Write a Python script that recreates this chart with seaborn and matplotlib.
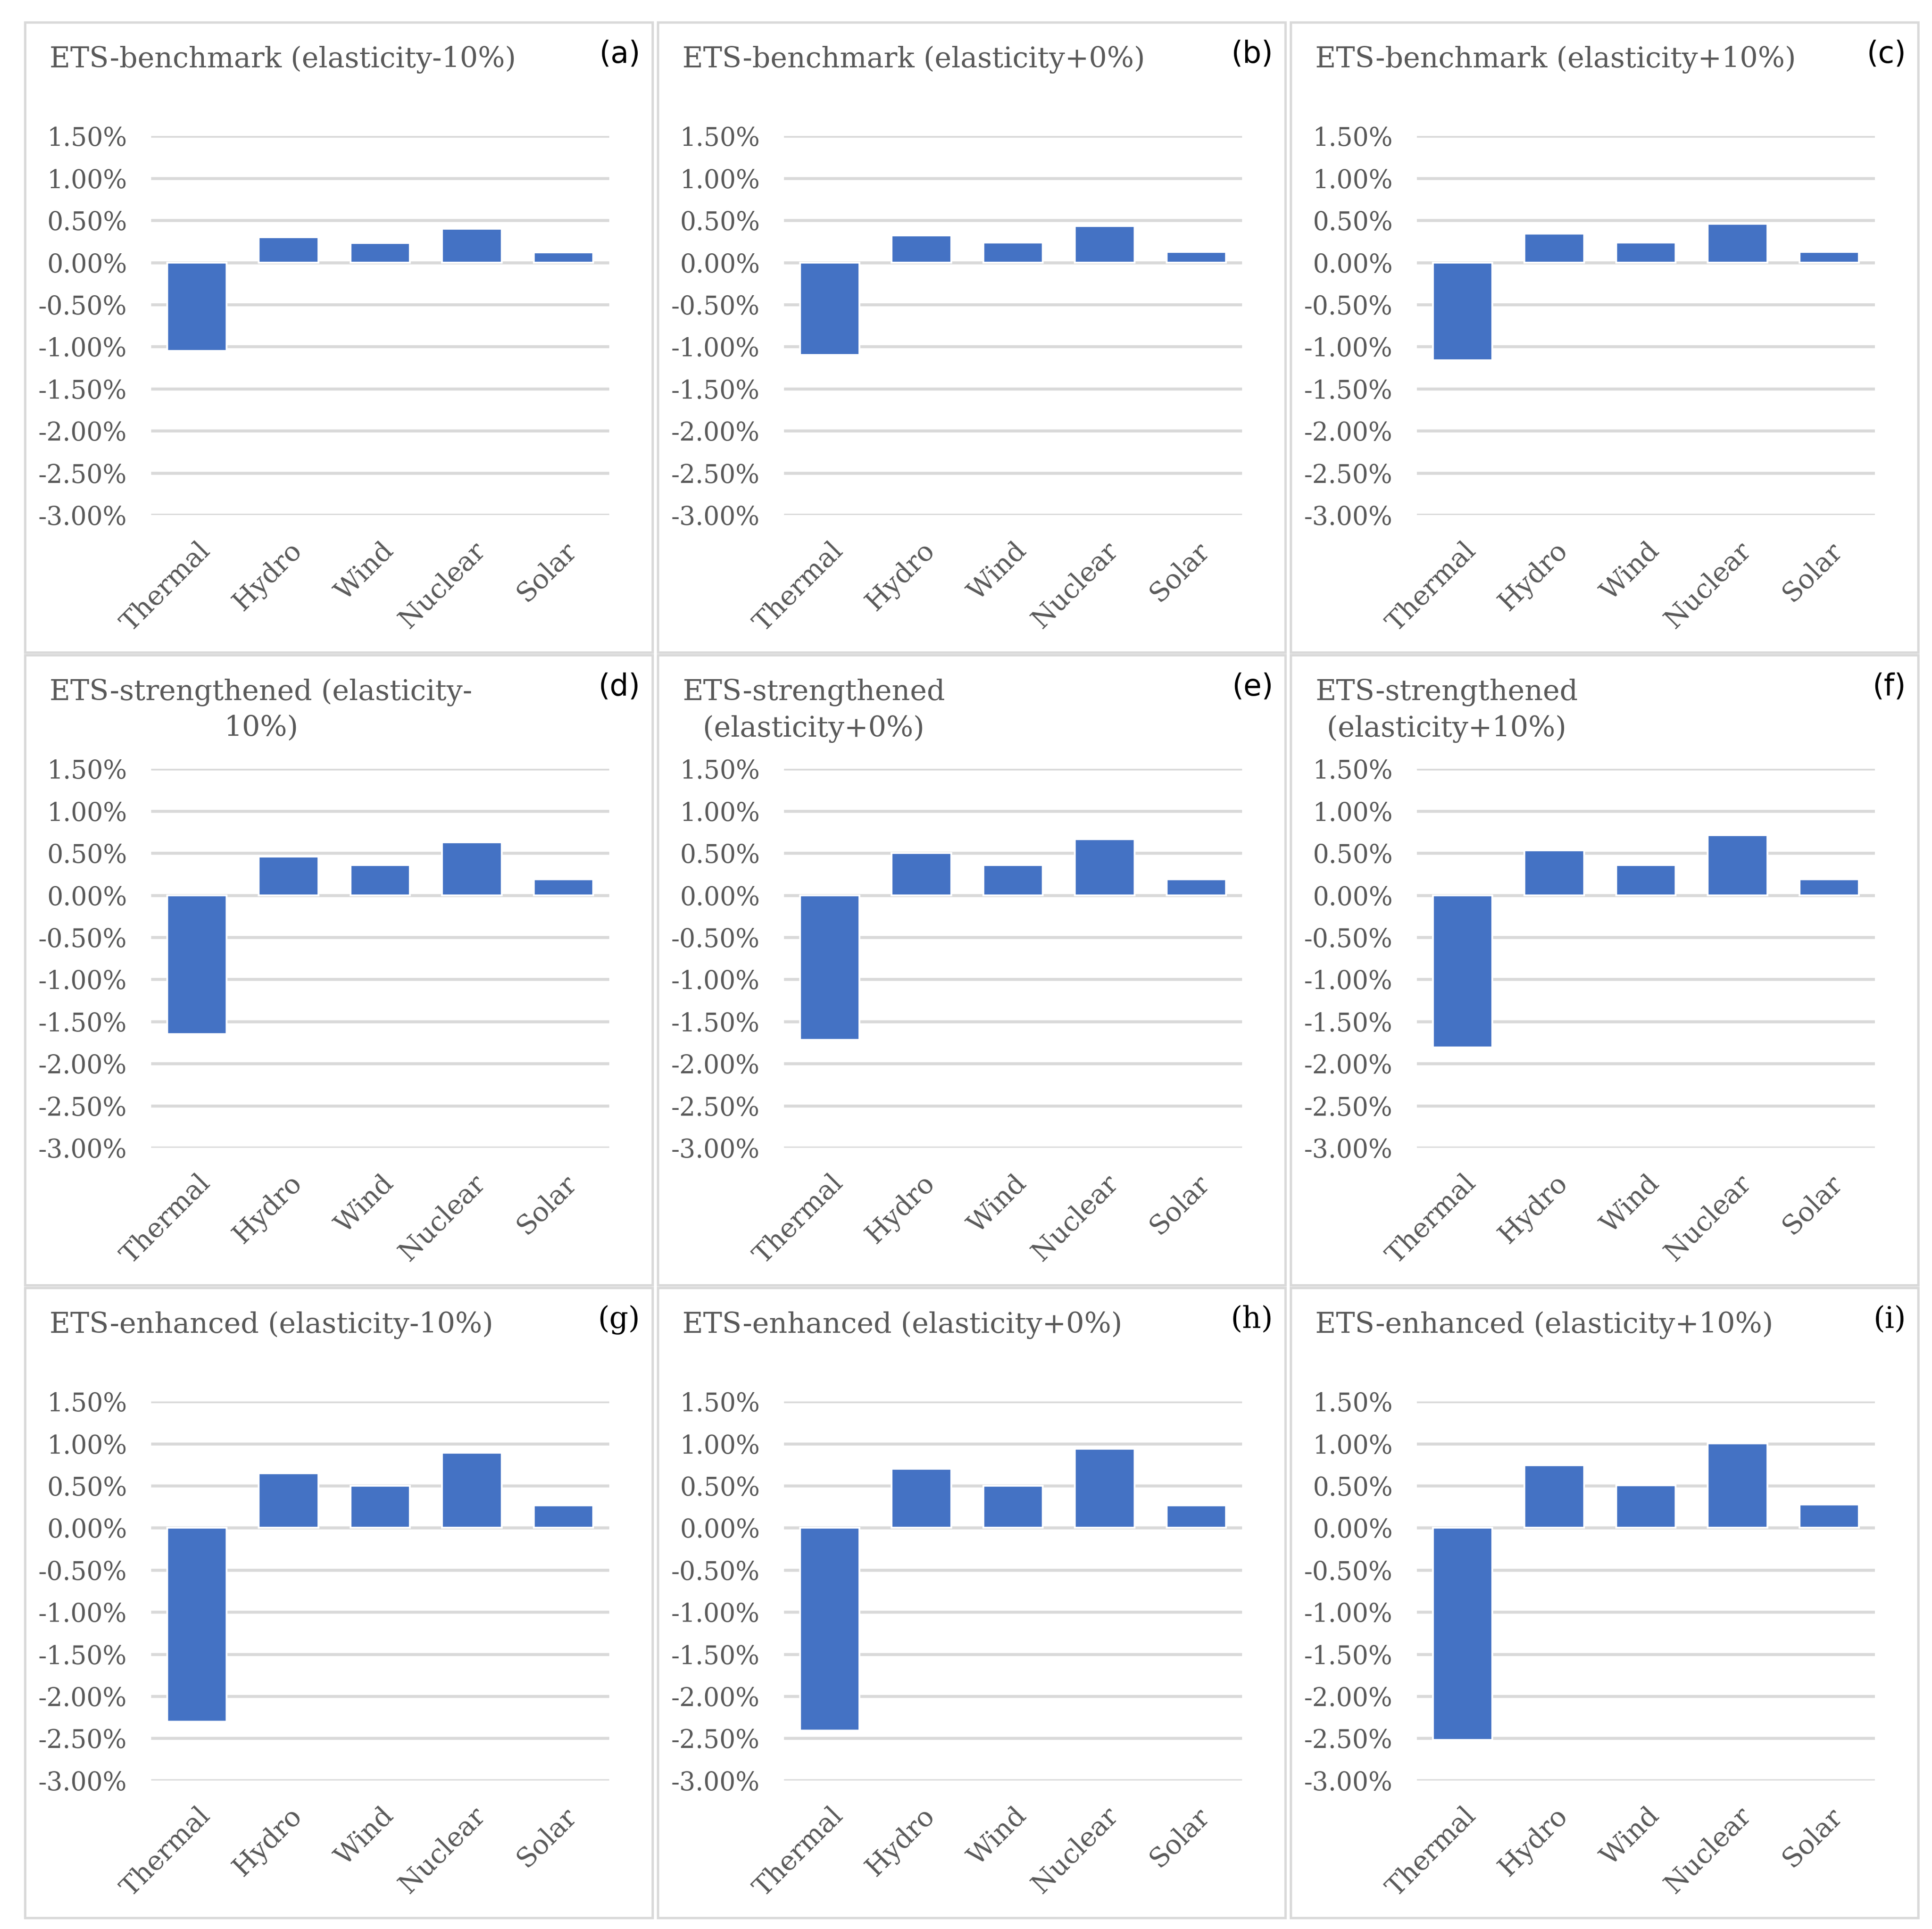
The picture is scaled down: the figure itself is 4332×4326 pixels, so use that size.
import seaborn as sns
import pandas as pd
import matplotlib.pyplot as plt
from matplotlib.patches import Rectangle
from matplotlib.ticker import FuncFormatter

# %%
categories = ['Thermal', 'Hydro', 'Wind', 'Nuclear', 'Solar']
panel_labels = ['(a)', '(b)', '(c)', '(d)', '(e)', '(f)', '(g)', '(h)', '(i)']
titles = [
    'ETS-benchmark (elasticity-10%)',
    'ETS-benchmark (elasticity+0%)',
    'ETS-benchmark (elasticity+10%)',
    'ETS-strengthened (elasticity-\n10%)',
    'ETS-strengthened\n(elasticity+0%)',
    'ETS-strengthened\n(elasticity+10%)',
    'ETS-enhanced (elasticity-10%)',
    'ETS-enhanced (elasticity+0%)',
    'ETS-enhanced (elasticity+10%)',
]

# values in percent
vals_a = [-1.05, 0.30, 0.23, 0.40, 0.12]
vals_b = [-1.10, 0.32, 0.235, 0.43, 0.125]
vals_c = [-1.16, 0.345, 0.237, 0.457, 0.127]
vals_d = [-1.65, 0.46, 0.36, 0.63, 0.19]
vals_e = [-1.72, 0.50, 0.356, 0.667, 0.19]
vals_f = [-1.81, 0.53, 0.36, 0.71, 0.19]
vals_g = [-2.30, 0.65, 0.50, 0.89, 0.265]
vals_h = [-2.41, 0.70, 0.50, 0.94, 0.265]
vals_i = [-2.52, 0.745, 0.505, 1.005, 0.275]
all_vals = [vals_a, vals_b, vals_c, vals_d, vals_e, vals_f, vals_g, vals_h, vals_i]

yticks = [1.5, 1.0, 0.5, 0.0, -0.5, -1.0, -1.5, -2.0, -2.5, -3.0]

# %%
sns.set_style('white')
plt.rcParams['font.family'] = ['DejaVu Serif']

gray_txt = '#595959'
grid_c = '#D9D9D9'
bar_c = '#4472C4'

W, H = 1560.0, 1558.0  # layout units (reference pixels / 2.777)
fig = plt.figure(figsize=(4332 / 300, 4326 / 300), dpi=300)

col_x = [20, 531, 1042]
row_y = [18, 529, 1040]
pw, ph = 507, 509

for k in range(9):
    r, c = divmod(k, 3)
    x0, y0 = col_x[c], row_y[r]

    # panel frame
    fig.patches.append(Rectangle((x0 / W, 1 - (y0 + ph) / H), pw / W, ph / H,
                                 transform=fig.transFigure, fill=False,
                                 edgecolor=grid_c, linewidth=1.3))

    ax = fig.add_axes([(x0 + 102) / W, 1 - (y0 + 92 + 306) / H, 370 / W, 306 / H])
    df = pd.DataFrame({'source': categories, 'change': all_vals[k]})
    sns.barplot(data=df, x='source', y='change', color=bar_c, saturation=1,
                width=0.65, ax=ax, zorder=3)
    ax.set_ylim(-3.0, 1.5)
    ax.set_xlim(-0.5, 4.5)
    ax.set_yticks(yticks)
    ax.yaxis.set_major_formatter(FuncFormatter(lambda v, p: f'{v:.2f}%'))
    for yv in yticks:
        ax.axhline(yv, color=grid_c, linewidth=1.6, zorder=1)
    sns.despine(ax=ax, left=True, bottom=True, top=True, right=True)
    ax.set_xlabel('')
    ax.set_ylabel('')
    ax.tick_params(axis='y', length=0, pad=13, labelsize=13.6, labelcolor=gray_txt)
    ax.tick_params(axis='x', length=0, pad=12, labelsize=14.5, labelcolor=gray_txt)
    for lab in ax.get_xticklabels():
        lab.set_rotation(45)
        lab.set_ha('right')
        lab.set_rotation_mode('anchor')

    fig.text((x0 + 20) / W, 1 - (y0 + 19) / H, titles[k], ha='left', va='top',
             multialignment='center', fontsize=15.3, color=gray_txt, linespacing=1.4)
    lab_font = 'DejaVu Sans' if r < 2 else 'DejaVu Serif'
    fig.text((x0 + 497) / W, 1 - (y0 + 14) / H, panel_labels[k], ha='right',
             va='top', fontsize=16, color='black', family=lab_font)

fig.savefig('out.png', dpi=300, facecolor='white')
